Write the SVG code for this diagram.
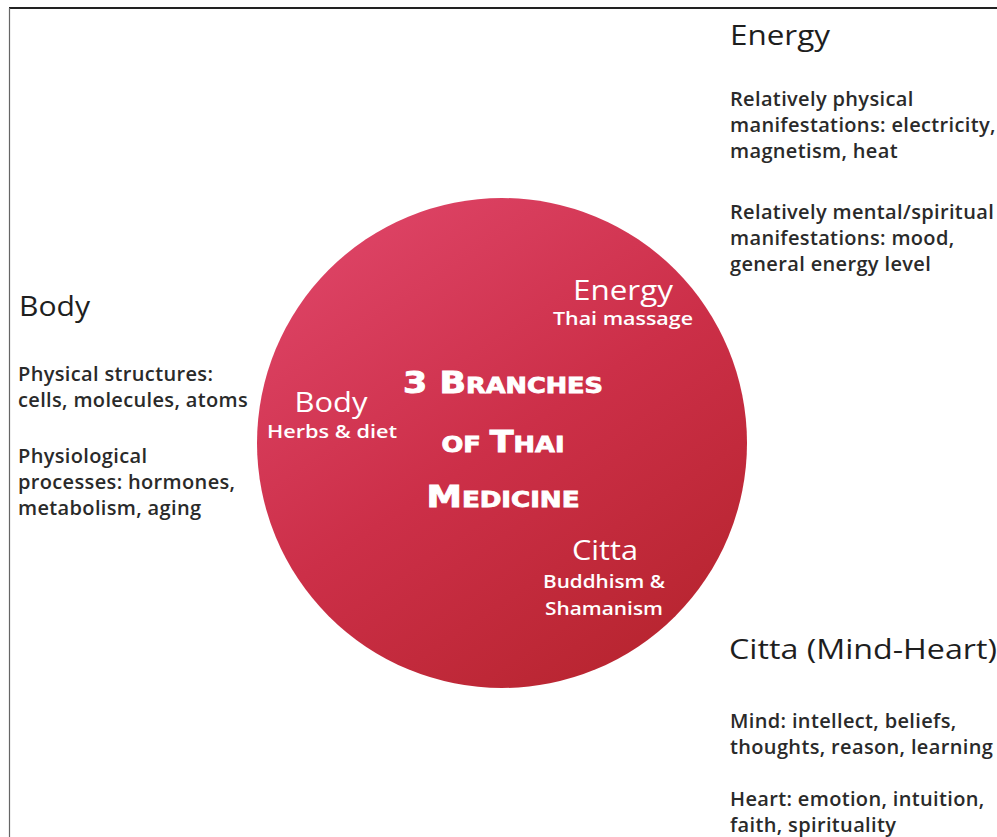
<svg xmlns="http://www.w3.org/2000/svg" width="997" height="837" viewBox="0 0 997 837">
<defs>
<linearGradient id="cg" x1="0.2" y1="0.05" x2="0.8" y2="0.95">
<stop offset="0" stop-color="#dd4365"/>
<stop offset="0.5" stop-color="#cc2f48"/>
<stop offset="1" stop-color="#b82530"/>
</linearGradient>
<style>
.h{font-family:"Open Sans","Noto Sans","DejaVu Sans",sans-serif;font-size:28px;fill:#1e1e1e}
.t{font-family:"Open Sans","Noto Sans","DejaVu Sans",sans-serif;font-size:20px;letter-spacing:0.35px;font-weight:600;fill:#2a2a2a}
.w1{font-family:"Open Sans","Noto Sans","DejaVu Sans",sans-serif;font-size:27px;fill:#fff;text-anchor:middle}
.w2{font-family:"Open Sans","Noto Sans","DejaVu Sans",sans-serif;font-size:17.5px;font-weight:600;fill:#fff;text-anchor:middle}
.ti{font-family:"DejaVu Sans Condensed","Liberation Sans Narrow",sans-serif;font-weight:bold;fill:#fff;text-anchor:middle;stroke:#fff;stroke-width:0.8}
</style>
</defs>
<rect x="0" y="0" width="997" height="837" fill="#fff"/>
<line x1="9" y1="8" x2="997" y2="8" stroke="#222" stroke-width="2"/>
<line x1="9.5" y1="8" x2="9.5" y2="837" stroke="#666" stroke-width="1.2"/>

<g id="circle">
<circle cx="502" cy="443" r="245" fill="url(#cg)"/>
<text class="ti" x="503" y="393" textLength="200" lengthAdjust="spacingAndGlyphs"><tspan font-size="30">3 B</tspan><tspan font-size="22">RANCHES</tspan></text>
<text class="ti" x="503" y="452" textLength="123" lengthAdjust="spacingAndGlyphs"><tspan font-size="22">OF </tspan><tspan font-size="30">T</tspan><tspan font-size="22">HAI</tspan></text>
<text class="ti" x="503" y="507" textLength="153" lengthAdjust="spacingAndGlyphs"><tspan font-size="30">M</tspan><tspan font-size="22">EDICINE</tspan></text>
</g>

<g id="energy-inner">
<text class="w1" x="623" y="300" textLength="100" lengthAdjust="spacingAndGlyphs">Energy</text>
<text class="w2" x="623" y="325" textLength="140" lengthAdjust="spacingAndGlyphs">Thai massage</text>
</g>
<g id="body-inner">
<text class="w1" x="331" y="412" textLength="73" lengthAdjust="spacingAndGlyphs">Body</text>
<text class="w2" x="332" y="438" font-size="16" textLength="130" lengthAdjust="spacingAndGlyphs">Herbs &amp; diet</text>
</g>
<g id="citta-inner">
<text class="w1" x="605" y="560" textLength="66" lengthAdjust="spacingAndGlyphs">Citta</text>
<text class="w2" x="604" y="588" textLength="122" lengthAdjust="spacingAndGlyphs">Buddhism &amp;</text>
<text class="w2" x="604" y="615" textLength="118" lengthAdjust="spacingAndGlyphs">Shamanism</text>
</g>

<g id="energy">
<text class="h" x="730" y="45" textLength="100" lengthAdjust="spacingAndGlyphs">Energy</text>
<text class="t" x="730" y="106">Relatively physical</text>
<text class="t" x="730" y="132">manifestations: electricity,</text>
<text class="t" x="730" y="158">magnetism, heat</text>
<text class="t" x="730" y="219">Relatively mental/spiritual</text>
<text class="t" x="730" y="245">manifestations: mood,</text>
<text class="t" x="730" y="271">general energy level</text>
</g>

<g id="body">
<text class="h" x="19" y="316" textLength="71" lengthAdjust="spacingAndGlyphs">Body</text>
<text class="t" x="18" y="381">Physical structures:</text>
<text class="t" x="18" y="407">cells, molecules, atoms</text>
<text class="t" x="18" y="463">Physiological</text>
<text class="t" x="18" y="489">processes: hormones,</text>
<text class="t" x="18" y="515">metabolism, aging</text>
</g>

<g id="citta">
<text class="h" x="729" y="659" textLength="268" lengthAdjust="spacingAndGlyphs">Citta (Mind-Heart)</text>
<text class="t" x="730" y="728">Mind: intellect, beliefs,</text>
<text class="t" x="730" y="754">thoughts, reason, learning</text>
<text class="t" x="730" y="806">Heart: emotion, intuition,</text>
<text class="t" x="730" y="832">faith, spirituality</text>
</g>
</svg>
